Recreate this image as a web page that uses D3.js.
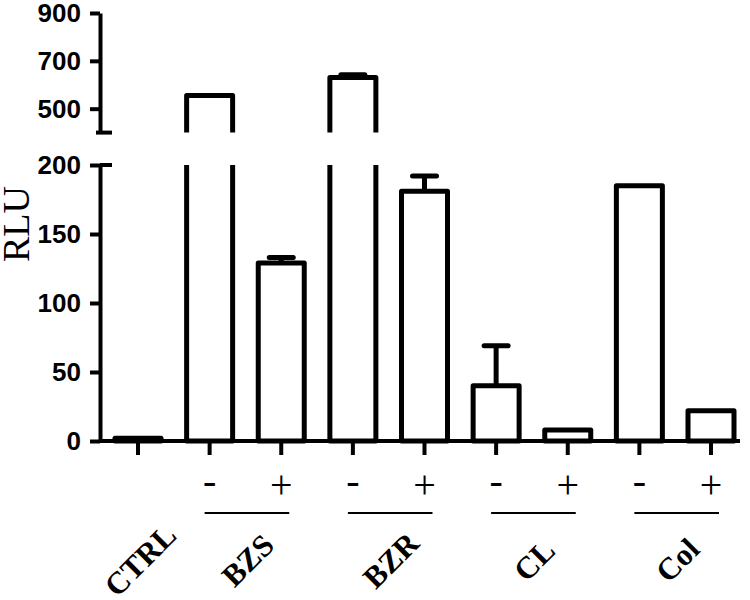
<!DOCTYPE html>
<html>
<head>
<meta charset="utf-8">
<script src="https://cdn.jsdelivr.net/npm/d3@7"></script>
<style>
  body { margin: 0; background: #fff; }
  svg { display: block; }
  .axis path, .axis line { stroke: #000; stroke-width: 4; }
  .axis text { font-family: "Liberation Sans", Arial, sans-serif; font-weight: bold; font-size: 26px; fill: #000; }
</style>
</head>
<body>
<div id="chart"></div>
<script>

// data
var categories = ["CTRL", "BZS-", "BZS+", "BZR-", "BZR+", "CL-", "CL+", "Col-", "Col+"];
var values = [2, 555, 129, 630, 181, 40, 8, 185, 22];
var errors = [0, 0, 4, 12, 11, 29, 0, 0, 0];
var signs = ["", "-", "+", "-", "+", "-", "+", "-", "+"];
var groups = ["CTRL", "BZS", "BZR", "CL", "Col"];
var groupMembers = [["CTRL"], ["BZS-", "BZS+"], ["BZR-", "BZR+"], ["CL-", "CL+"], ["Col-", "Col+"]];
var lowerTicks = [0, 50, 100, 150, 200];
var upperTicks = [500, 700, 900];
var lowerDomain = [0, 200];
var upperDomain = [400, 900];

var width = 750, height = 600;
var axisX = 100;
var barWidth = 46;

var svg = d3.select("#chart").append("svg")
    .attr("width", width)
    .attr("height", height);

var xScale = d3.scalePoint()
    .domain(categories)
    .range([138, 711]);

// two pieces of the broken y axis
var yLower = d3.scaleLinear()
    .domain(lowerDomain)
    .range([441, 165]);

var yUpper = d3.scaleLinear()
    .domain(upperDomain)
    .range([132.6, 13]);

function yOf(v){
    return v > 300 ? yUpper(v) : yLower(v);
}

var data = categories.map(function(c, i){
    return {key: c, value: values[i], err: errors[i], sign: signs[i]};
});

// clip regions so tall bars show only their sides below the break
var defs = svg.append("defs");
defs.append("clipPath").attr("id", "clipLower")
  .append("rect")
    .attr("x", 0).attr("width", width)
    .attr("y", yLower(200)).attr("height", 300);
defs.append("clipPath").attr("id", "clipUpper")
  .append("rect")
    .attr("x", 0).attr("width", width)
    .attr("y", 0).attr("height", yUpper(400));

function drawBars(g, scale){
    g.selectAll("rect")
      .data(data)
      .enter().append("rect")
        .attr("x", function(d) { return xScale(d.key) - barWidth/2; })
        .attr("y", function(d) { return scale(d.value); })
        .attr("width", barWidth)
        .attr("height", function(d) { return Math.max(0, scale(0) - scale(d.value)); })
        .attr("fill", "#fff")
        .attr("stroke", "#000")
        .attr("stroke-width", 5)
        .attr("stroke-linejoin", "round");
}

drawBars(svg.append("g").attr("clip-path", "url(#clipLower)"), yLower);
drawBars(svg.append("g").attr("clip-path", "url(#clipUpper)"), yUpper);

// error bars (upper only)
var errs = svg.append("g").selectAll("g")
    .data(data.filter(function(d) { return d.err > 0; }))
    .enter().append("g");

errs.append("line")
    .attr("x1", function(d) { return xScale(d.key); })
    .attr("x2", function(d) { return xScale(d.key); })
    .attr("y1", function(d) { return yOf(d.value); })
    .attr("y2", function(d) { return yOf(d.value + d.err); })
    .attr("stroke", "#000")
    .attr("stroke-width", 5);

errs.append("line")
    .attr("x1", function(d) { return xScale(d.key) - 12; })
    .attr("x2", function(d) { return xScale(d.key) + 12; })
    .attr("y1", function(d) { return yOf(d.value + d.err); })
    .attr("y2", function(d) { return yOf(d.value + d.err); })
    .attr("stroke", "#000")
    .attr("stroke-width", 5)
    .attr("stroke-linecap", "round");

// y axis, lower piece
svg.append("g")
    .attr("class", "axis")
    .attr("transform", "translate(" + axisX + ",0)")
    .call(d3.axisLeft(yLower).tickValues(lowerTicks).tickSize(10).tickSizeOuter(0).tickPadding(9));

// y axis, upper piece
svg.append("g")
    .attr("class", "axis")
    .attr("transform", "translate(" + axisX + ",0)")
    .call(d3.axisLeft(yUpper).tickValues(upperTicks).tickSize(10).tickSizeOuter(0).tickPadding(9));

// end caps at the break
svg.append("line")
    .attr("x1", axisX).attr("x2", axisX + 12)
    .attr("y1", yLower(200)).attr("y2", yLower(200))
    .attr("stroke", "#000").attr("stroke-width", 4);
svg.append("line")
    .attr("x1", axisX - 4).attr("x2", axisX + 12)
    .attr("y1", yUpper(400)).attr("y2", yUpper(400))
    .attr("stroke", "#000").attr("stroke-width", 4);

// x axis
svg.append("line")
    .attr("x1", axisX).attr("x2", 740)
    .attr("y1", yLower(0)).attr("y2", yLower(0))
    .attr("stroke", "#000").attr("stroke-width", 4);

svg.append("g").selectAll("line")
    .data(categories)
    .enter().append("line")
      .attr("x1", function(d) { return xScale(d); })
      .attr("x2", function(d) { return xScale(d); })
      .attr("y1", yLower(0))
      .attr("y2", yLower(0) + 14)
      .attr("stroke", "#000")
      .attr("stroke-width", 4);

// - / + signs
svg.append("g").selectAll("text")
    .data(data.filter(function(d) { return d.sign !== ""; }))
    .enter().append("text")
      .attr("x", function(d) { return xScale(d.key); })
      .attr("y", function(d) { return d.sign === "-" ? 494 : 498; })
      .attr("text-anchor", "middle")
      .style("font-family", "'Liberation Serif', 'Times New Roman', serif")
      .style("font-size", "40px")
      .text(function(d) { return d.sign; });

// group underlines and labels
var groupData = groups.map(function(g, i){
    var m = groupMembers[i];
    var x0 = xScale(m[0]), x1 = xScale(m[m.length - 1]);
    return {name: g, x0: x0, x1: x1, cx: (x0 + x1)/2, pair: m.length > 1};
});

svg.append("g").selectAll("line")
    .data(groupData.filter(function(d) { return d.pair; }))
    .enter().append("line")
      .attr("x1", function(d) { return d.x0 - 5; })
      .attr("x2", function(d) { return d.x1 + 8; })
      .attr("y1", 513)
      .attr("y2", 513)
      .attr("stroke", "#000")
      .attr("stroke-width", 2);

svg.append("g").selectAll("g")
    .data(groupData)
    .enter().append("g")
      .attr("transform", function(d) { return "translate(" + (d.cx + 2) + ",560)"; })
    .append("text")
      .attr("transform", "rotate(-45)")
      .attr("text-anchor", "middle")
      .attr("dy", "0.35em")
      .style("font-family", "'Liberation Serif', 'Times New Roman', serif")
      .style("font-weight", "bold")
      .style("font-size", "31px")
      .text(function(d) { return d.name; });

// y axis title
svg.append("text")
    .attr("transform", "translate(29,224) rotate(-90)")
    .attr("text-anchor", "middle")
    .style("font-family", "'Liberation Serif', 'Times New Roman', serif")
    .style("font-size", "38px")
    .text("RLU");

</script>
</body>
</html>
